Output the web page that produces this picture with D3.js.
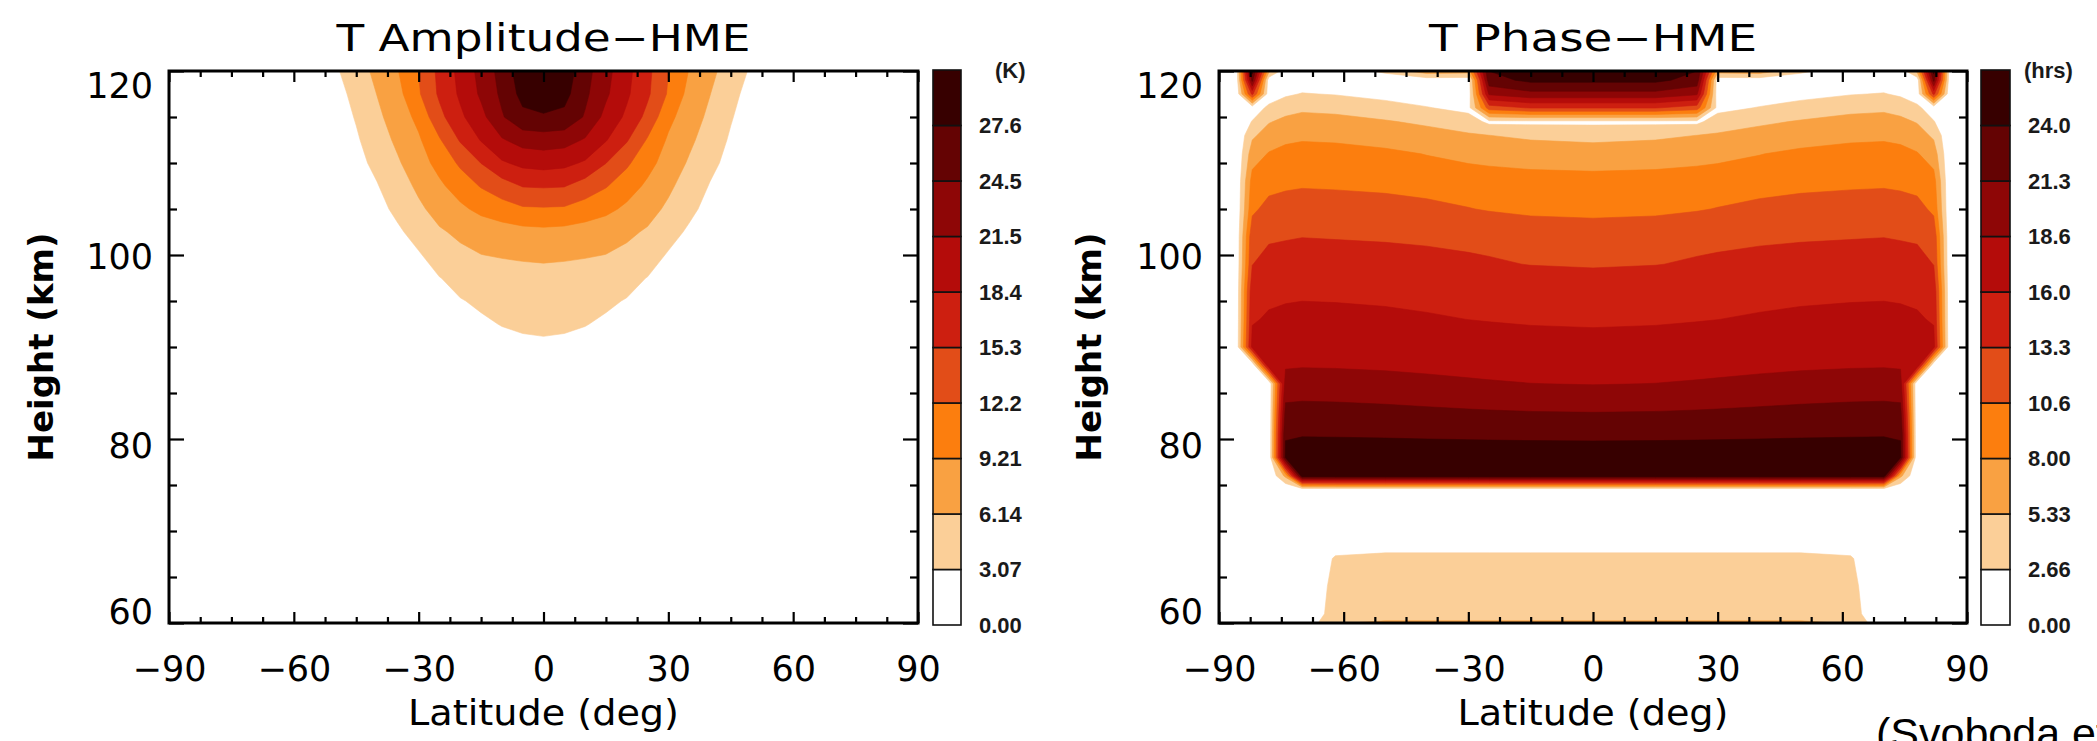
<!DOCTYPE html>
<html><head><meta charset="utf-8">
<script src="https://cdn.jsdelivr.net/npm/d3@7/dist/d3.min.js"></script>
<style>html,body{margin:0;padding:0;background:#fff;}svg{display:block;}</style>
</head><body>
<svg id="chart" width="2097" height="741" xmlns="http://www.w3.org/2000/svg"></svg>
<script>
// ================= DATA =================
const xTicks = [-90, -60, -30, 0, 30, 60, 90];
const xTickLabels = ["\u221290", "\u221260", "\u221230", "0", "30", "60", "90"];
const xMinorTicks = [-82.5, -75, -67.5, -52.5, -45, -37.5, -22.5, -15, -7.5, 7.5, 15, 22.5, 37.5, 45, 52.5, 67.5, 75, 82.5];
const yTicks = [60, 80, 100, 120];
const yTickLabels = ["60", "80", "100", "120"];
const yMinorTicks = [65, 70, 75, 85, 90, 95, 105, 110, 115];

const ampLevels = [0, 3.07, 6.14, 9.21, 12.2, 15.3, 18.4, 21.5, 24.5, 27.6];
const ampBarLabels = ["0.00", "3.07", "6.14", "9.21", "12.2", "15.3", "18.4", "21.5", "24.5", "27.6"];
const ampUnit = "(K)";
const phaseLevels = [0, 2.66, 5.33, 8.00, 10.6, 13.3, 16.0, 18.6, 21.3, 24.0];
const phaseBarLabels = ["0.00", "2.66", "5.33", "8.00", "10.6", "13.3", "16.0", "18.6", "21.3", "24.0"];
const phaseUnit = "(hrs)";

// Amplitude field (K): columns = ampLats, rows = ampHeights (bottom to top)
const ampLats = [-90,-85,-80,-75,-70,-65,-60,-55,-50,-45,-40,-35,-30,-25,-20,-15,-10,-5,0,5,10,15,20,25,30,35,40,45,50,55,60,65,70,75,80,85,90];
const ampHeights = [60,62.5,65,67.5,70,72.5,75,77.5,80,82.5,85,87.5,90,92.5,95,97.5,100,102.5,105,107.5,110,112.5,115,117.5,120];
const ampRows = [
[0.2,0.2,0.2,0.2,0.2,0.2,0.2,0.2,0.2,0.2,0.2,0.2,0.2,0.2,0.2,0.2,0.2,0.2,0.2,0.2,0.2,0.2,0.2,0.2,0.2,0.2,0.2,0.2,0.2,0.2,0.2,0.2,0.2,0.2,0.2,0.2,0.2],
[0.2,0.2,0.2,0.2,0.2,0.2,0.2,0.2,0.2,0.2,0.2,0.2,0.2,0.2,0.2,0.2,0.2,0.2,0.2,0.2,0.2,0.2,0.2,0.2,0.2,0.2,0.2,0.2,0.2,0.2,0.2,0.2,0.2,0.2,0.2,0.2,0.2],
[0.2,0.2,0.2,0.2,0.2,0.2,0.2,0.2,0.2,0.2,0.2,0.2,0.2,0.2,0.2,0.2,0.2,0.2,0.2,0.2,0.2,0.2,0.2,0.2,0.2,0.2,0.2,0.2,0.2,0.2,0.2,0.2,0.2,0.2,0.2,0.2,0.2],
[0.2,0.2,0.2,0.2,0.2,0.2,0.2,0.2,0.2,0.2,0.2,0.2,0.2,0.2,0.2,0.2,0.2,0.2,0.2,0.2,0.2,0.2,0.2,0.2,0.2,0.2,0.2,0.2,0.2,0.2,0.2,0.2,0.2,0.2,0.2,0.2,0.2],
[0.2,0.2,0.2,0.2,0.2,0.2,0.2,0.2,0.2,0.2,0.2,0.2,0.2,0.25,0.25,0.3,0.3,0.3,0.3,0.3,0.3,0.3,0.25,0.25,0.2,0.2,0.2,0.2,0.2,0.2,0.2,0.2,0.2,0.2,0.2,0.2,0.2],
[0.2,0.2,0.2,0.2,0.2,0.2,0.2,0.2,0.2,0.2,0.2,0.2,0.25,0.3,0.3,0.35,0.4,0.4,0.4,0.4,0.4,0.35,0.3,0.3,0.25,0.2,0.2,0.2,0.2,0.2,0.2,0.2,0.2,0.2,0.2,0.2,0.2],
[0.2,0.2,0.2,0.2,0.2,0.2,0.2,0.2,0.2,0.2,0.2,0.2,0.3,0.35,0.4,0.45,0.5,0.5,0.5,0.5,0.5,0.45,0.4,0.35,0.3,0.2,0.2,0.2,0.2,0.2,0.2,0.2,0.2,0.2,0.2,0.2,0.2],
[0.2,0.2,0.2,0.2,0.2,0.2,0.2,0.2,0.2,0.2,0.2,0.25,0.3,0.4,0.5,0.6,0.65,0.7,0.7,0.7,0.65,0.6,0.5,0.4,0.3,0.25,0.2,0.2,0.2,0.2,0.2,0.2,0.2,0.2,0.2,0.2,0.2],
[0.2,0.2,0.2,0.2,0.2,0.2,0.2,0.2,0.2,0.2,0.25,0.3,0.4,0.55,0.65,0.75,0.85,0.9,0.9,0.9,0.85,0.75,0.65,0.55,0.4,0.3,0.25,0.2,0.2,0.2,0.2,0.2,0.2,0.2,0.2,0.2,0.2],
[0.2,0.2,0.2,0.2,0.2,0.2,0.2,0.2,0.2,0.2,0.3,0.4,0.5,0.7,0.85,1.0,1.1,1.2,1.2,1.2,1.1,1.0,0.85,0.7,0.5,0.4,0.3,0.2,0.2,0.2,0.2,0.2,0.2,0.2,0.2,0.2,0.2],
[0.2,0.2,0.2,0.2,0.2,0.2,0.2,0.2,0.2,0.25,0.35,0.45,0.65,0.85,1.1,1.3,1.45,1.55,1.6,1.55,1.45,1.3,1.1,0.85,0.65,0.45,0.35,0.25,0.2,0.2,0.2,0.2,0.2,0.2,0.2,0.2,0.2],
[0.2,0.2,0.2,0.2,0.2,0.2,0.2,0.2,0.2,0.3,0.4,0.55,0.8,1.1,1.4,1.65,1.9,2.0,2.1,2.0,1.9,1.65,1.4,1.1,0.8,0.55,0.4,0.3,0.2,0.2,0.2,0.2,0.2,0.2,0.2,0.2,0.2],
[0.2,0.2,0.2,0.2,0.2,0.2,0.2,0.2,0.25,0.35,0.5,0.7,1.0,1.4,1.75,2.1,2.4,2.6,2.7,2.6,2.4,2.1,1.75,1.4,1.0,0.7,0.5,0.35,0.25,0.2,0.2,0.2,0.2,0.2,0.2,0.2,0.2],
[0.2,0.2,0.2,0.2,0.2,0.2,0.2,0.2,0.3,0.45,0.6,0.9,1.3,1.8,2.3,2.75,3.15,3.4,3.5,3.4,3.15,2.75,2.3,1.8,1.3,0.9,0.6,0.45,0.3,0.2,0.2,0.2,0.2,0.2,0.2,0.2,0.2],
[0.2,0.2,0.2,0.2,0.2,0.2,0.2,0.25,0.35,0.55,0.8,1.2,1.7,2.3,2.95,3.4,3.85,4.15,4.3,4.15,3.85,3.4,2.95,2.3,1.7,1.2,0.8,0.55,0.35,0.25,0.2,0.2,0.2,0.2,0.2,0.2,0.2],
[0.2,0.2,0.2,0.2,0.2,0.2,0.2,0.3,0.4,0.7,1.0,1.5,2.2,3.0,3.8,4.4,4.9,5.2,5.3,5.2,4.9,4.4,3.8,3.0,2.2,1.5,1.0,0.7,0.4,0.3,0.2,0.2,0.2,0.2,0.2,0.2,0.2],
[0.2,0.2,0.2,0.2,0.2,0.2,0.2,0.3,0.5,0.9,1.3,2.0,2.8,4.4,5.5,6.1,6.35,6.5,6.6,6.5,6.35,6.1,5.5,4.4,2.8,2.0,1.3,0.9,0.5,0.3,0.2,0.2,0.2,0.2,0.2,0.2,0.2],
[0.2,0.2,0.2,0.2,0.2,0.2,0.25,0.35,0.6,1.1,1.7,2.6,4.2,5.8,6.7,7.3,7.9,8.3,8.5,8.3,7.9,7.3,6.7,5.8,4.2,2.6,1.7,1.1,0.6,0.35,0.25,0.2,0.2,0.2,0.2,0.2,0.2],
[0.2,0.2,0.2,0.2,0.2,0.2,0.25,0.35,0.7,1.3,2.1,3.8,5.6,7.2,8.6,10.0,10.9,11.8,11.9,11.8,10.9,10.0,8.6,7.2,5.6,3.8,2.1,1.3,0.7,0.35,0.25,0.2,0.2,0.2,0.2,0.2,0.2],
[0.2,0.2,0.2,0.2,0.2,0.2,0.3,0.4,0.9,1.8,2.9,4.8,6.7,8.65,10.6,12.4,13.9,15.45,15.6,15.45,13.9,12.4,10.6,8.65,6.7,4.8,2.9,1.8,0.9,0.4,0.3,0.2,0.2,0.2,0.2,0.2,0.2],
[0.2,0.2,0.2,0.2,0.2,0.2,0.3,0.45,1.0,2.2,3.8,5.8,7.9,10.2,12.7,15.35,18.0,19.2,19.6,19.2,18.0,15.35,12.7,10.2,7.9,5.8,3.8,2.2,1.0,0.45,0.3,0.2,0.2,0.2,0.2,0.2,0.2],
[0.2,0.2,0.2,0.2,0.2,0.2,0.3,0.5,1.2,2.7,4.7,6.75,8.8,11.9,15.6,18.6,21.2,22.7,23.0,22.7,21.2,18.6,15.6,11.9,8.8,6.75,4.7,2.7,1.2,0.5,0.3,0.2,0.2,0.2,0.2,0.2,0.2],
[0.2,0.2,0.2,0.2,0.2,0.2,0.35,0.7,1.5,3.3,5.5,7.6,10.0,14.4,17.8,20.6,24.2,26.8,27.2,26.8,24.2,20.6,17.8,14.4,10.0,7.6,5.5,3.3,1.5,0.7,0.35,0.2,0.2,0.2,0.2,0.2,0.2],
[0.2,0.2,0.2,0.2,0.2,0.3,0.4,0.9,1.9,4.0,6.2,8.3,11.85,15.8,18.9,22.0,25.1,28.6,29.7,28.6,25.1,22.0,18.9,15.8,11.85,8.3,6.2,4.0,1.9,0.9,0.4,0.3,0.2,0.2,0.2,0.2,0.2],
[0.2,0.2,0.2,0.2,0.2,0.3,0.6,1.2,2.65,4.75,6.9,9.1,12.25,16.1,19.3,22.5,25.6,29.5,31.0,29.5,25.6,22.5,19.3,16.1,12.25,9.1,6.9,4.75,2.65,1.2,0.6,0.3,0.2,0.2,0.2,0.2,0.2]
];

// Phase field (hrs): columns = phaseLats, rows = phaseHeights (bottom to top)
const phaseLats = [-90,-86,-82,-78,-74,-70,-62,-50,-40,-30,-25,-15,0,15,25,30,40,50,62,70,74,78,82,86,90];
const phaseHeights = [60,61,64,67,70,74.5,76,78,80.5,83,86,88,90,93,96,99,102,105,108,111,113,114.5,116,117.5,119,120];
const phaseRows = [
[0,0,0,0,0,0.3,5.2,5.6,5.6,5.6,5.6,5.6,5.6,5.6,5.6,5.6,5.6,5.6,5.2,0.3,0,0,0,0,0],
[0,0,0,0,0,0.3,3.8,4.5,4.5,4.5,4.5,4.5,4.5,4.5,4.5,4.5,4.5,4.5,3.8,0.3,0,0,0,0,0],
[0,0,0,0,0,0.3,3.4,3.8,3.8,3.8,3.8,3.8,3.8,3.8,3.8,3.8,3.8,3.8,3.4,0.3,0,0,0,0,0],
[0,0,0,0,0,0.3,2.9,3.2,3.2,3.2,3.2,3.2,3.2,3.2,3.2,3.2,3.2,3.2,2.9,0.3,0,0,0,0,0],
[0,0,0,0,0,0.3,0.6,0.6,0.6,0.6,0.6,0.6,0.6,0.6,0.6,0.6,0.6,0.6,0.6,0.3,0,0,0,0,0],
[0,0,0,0,0,0.6,0.8,0.8,0.8,0.8,0.8,0.8,0.8,0.8,0.8,0.8,0.8,0.8,0.8,0.6,0,0,0,0,0],
[0,0,0,0,6,25.5,25.5,25.5,25.5,25.5,25.5,25.5,25.5,25.5,25.5,25.5,25.5,25.5,25.5,25.5,6,0,0,0,0],
[0,0,0,0,24.4,25,25,25,25,25,25,25,25,25,25,25,25,25,25,25,24.4,0,0,0,0],
[0,0,0,0,23.85,23.88,23.86,23.81,23.75,23.7,23.67,23.63,23.6,23.63,23.67,23.7,23.75,23.81,23.86,23.88,23.85,0,0,0,0],
[0,0,0,0,22.04,22.15,22.09,21.92,21.72,21.52,21.43,21.29,21.2,21.29,21.43,21.52,21.72,21.92,22.09,22.15,22.04,0,0,0,0],
[0,0,0,0,19.67,19.84,19.76,19.52,19.23,18.95,18.82,18.63,18.5,18.63,18.82,18.95,19.23,19.52,19.76,19.84,19.67,0,0,0,0],
[0,0,0,18.12,18.32,18.42,18.37,18.22,18.05,17.87,17.8,17.68,17.6,17.68,17.8,17.87,18.05,18.22,18.37,18.42,18.32,18.12,0,0,0],
[0,0,16.79,17.32,17.55,17.67,17.6,17.43,17.23,17.02,16.93,16.79,16.7,16.79,16.93,17.02,17.23,17.43,17.6,17.67,17.55,17.32,16.79,0,0],
[0,0,15.78,16.26,16.47,16.58,16.53,16.37,16.18,15.99,15.91,15.78,15.7,15.78,15.91,15.99,16.18,16.37,16.53,16.58,16.47,16.26,15.78,0,0],
[0,0,15.25,15.51,15.64,15.7,15.66,15.58,15.47,15.37,15.32,15.25,15.2,15.25,15.32,15.37,15.47,15.58,15.66,15.7,15.64,15.51,15.25,0,0],
[0,0,13.22,14.54,15.13,15.25,15.22,14.83,14.32,13.81,13.59,13.22,13.0,13.22,13.59,13.81,14.32,14.83,15.22,15.25,15.13,14.54,13.22,0,0],
[0,0,12.46,12.82,12.98,13.22,13.07,12.9,12.76,12.62,12.56,12.46,12.4,12.46,12.56,12.62,12.76,12.9,13.07,13.22,12.98,12.82,12.46,0,0],
[0,0,9.97,11.59,12.31,12.46,12.42,11.95,11.32,10.69,10.42,9.97,9.7,9.97,10.42,10.69,11.32,11.95,12.42,12.46,12.31,11.59,9.97,0,0],
[0,0,8.99,9.47,9.68,9.97,9.79,9.57,9.38,9.2,9.12,8.99,8.91,8.99,9.12,9.2,9.38,9.57,9.79,9.97,9.68,9.47,8.99,0,0],
[0,0,6.68,8.17,8.83,8.99,8.94,8.5,7.92,7.34,7.09,6.68,6.43,6.68,7.09,7.34,7.92,8.5,8.94,8.99,8.83,8.17,6.68,0,0],
[0,0,4.87,6.51,7.17,7.51,7.34,6.84,6.25,5.61,5.35,4.87,4.6,4.87,5.35,5.61,6.25,6.84,7.34,7.51,7.17,6.51,4.87,0,0],
[0,0,2.81,5.15,5.88,6.25,6.06,5.52,4.87,4.0,2.0,2.0,2.0,2.0,2.0,4.0,4.87,5.52,6.06,6.25,5.88,5.15,2.81,0,0],
[0,0,1.0,3.26,4.45,4.87,4.69,3.86,2.81,1.77,12,13.5,13.5,13.5,12,1.77,2.81,3.86,4.69,4.87,4.45,3.26,1.0,0,0],
[0,0,14,1.0,2.2,2.81,2.51,1.62,1.0,1.0,19,20.5,20.5,20.5,19,1.0,1.0,1.62,2.51,2.81,2.2,1.0,14,0,0],
[0,0,22,1.0,1.0,1.0,1.0,1.0,1.0,1.0,23,24.6,24.6,24.6,23,1.0,1.0,1.0,1.0,1.0,1.0,1.0,22,0,0],
[0,0,25,6.0,1.0,1.0,1.0,3.2,7.0,6.5,24,25.5,25.5,25.5,24,6.5,7.0,3.2,1.0,1.0,1.0,6.0,25,0,0]
];

// ================= STYLE / LAYOUT =================
const bandColors = ["#ffffff","#fbcf98","#f9a142","#fc7e0e","#e24d18","#cd1f10","#b40c0a","#8e0606","#640303","#370000"];
const FONT = "'DejaVu Sans', sans-serif";
const BARFONT = "'Liberation Sans', Arial, sans-serif";

const panels = [
  { title: "T Amplitude\u2212HME", lats: ampLats, heights: ampHeights, rows: ampRows, levels: ampLevels,
    barLabels: ampBarLabels, unit: ampUnit,
    box: {x0: 169, x1: 918, y0: 71, y1: 623}, bar: {x0: 933, x1: 961, y0: 70, y1: 625},
    ylabX: 53, titleLen: 414, unitX: 995 },
  { title: "T Phase\u2212HME", lats: phaseLats, heights: phaseHeights, rows: phaseRows, levels: phaseLevels,
    barLabels: phaseBarLabels, unit: phaseUnit,
    box: {x0: 1219, x1: 1967, y0: 71, y1: 623}, bar: {x0: 1981, x1: 2010, y0: 70, y1: 625},
    ylabX: 1101, titleLen: 328, unitX: 2024 }
];
const yLabelShift = [-12, 6, 1, 14]; // px nudges of the 60/80/100/120 labels

const svg = d3.select("#chart");
svg.append("rect").attr("width", 2097).attr("height", 741).attr("fill", "#ffffff");

panels.forEach((p, pi) => {
  const g = svg.append("g");
  const x = d3.scaleLinear().domain([-90, 90]).range([p.box.x0, p.box.x1]);
  const y = d3.scaleLinear().domain([60, 120]).range([p.box.y1, p.box.y0]);

  // grid index -> data coordinates (piecewise linear through the grid nodes)
  const nx = p.lats.length, ny = p.heights.length;
  const gx = d3.scaleLinear().domain(p.lats.map((d, i) => i + 0.5)).range(p.lats);
  const gy = d3.scaleLinear().domain(p.heights.map((d, i) => i + 0.5)).range(p.heights);
  const values = [].concat(...p.rows);
  const contours = d3.contours().size([nx, ny]).thresholds(p.levels.slice(1))(values);
  const proj = d3.geoTransform({ point: function(px, py) { this.stream.point(x(gx(px)), y(gy(py))); } });
  const path = d3.geoPath(proj);

  const clipId = "clip" + pi;
  g.append("clipPath").attr("id", clipId).append("rect")
    .attr("x", p.box.x0).attr("y", p.box.y0)
    .attr("width", p.box.x1 - p.box.x0).attr("height", p.box.y1 - p.box.y0);
  g.append("g").attr("clip-path", `url(#${clipId})`)
    .selectAll("path").data(contours).join("path")
    .attr("d", path)
    .attr("fill", (d, i) => bandColors[i + 1])
    .attr("stroke", (d, i) => bandColors[i + 1]).attr("stroke-width", 0.6);

  // axes (ticks point inward)
  const styleAxis = sel => {
    sel.select(".domain").remove();
    sel.selectAll(".tick line").attr("stroke", "#000").attr("stroke-width", 2.2);
    sel.selectAll(".tick text").attr("fill", "#000").style("font-family", FONT).style("font-size", "35px");
  };
  g.append("g").attr("transform", `translate(0,${p.box.y1})`)
    .call(d3.axisBottom(x).tickValues(xTicks).tickSize(-11).tickPadding(33).tickFormat((d, i) => xTickLabels[i]))
    .call(styleAxis);
  g.append("g").attr("transform", `translate(0,${p.box.y1})`)
    .call(d3.axisBottom(x).tickValues(xMinorTicks).tickSize(-6).tickFormat(""))
    .call(styleAxis);
  g.append("g").attr("transform", `translate(0,${p.box.y0})`)
    .call(d3.axisTop(x).tickValues(xTicks).tickSize(-11).tickFormat(""))
    .call(styleAxis);
  g.append("g").attr("transform", `translate(0,${p.box.y0})`)
    .call(d3.axisTop(x).tickValues(xMinorTicks).tickSize(-6).tickFormat(""))
    .call(styleAxis);
  const yl = g.append("g").attr("transform", `translate(${p.box.x0},0)`)
    .call(d3.axisLeft(y).tickValues(yTicks).tickSize(-15).tickPadding(16).tickFormat((d, i) => yTickLabels[i]))
    .call(styleAxis);
  yl.selectAll(".tick text").attr("dy", (d, i) => (yLabelShift[i] + 12) + "px");
  g.append("g").attr("transform", `translate(${p.box.x0},0)`)
    .call(d3.axisLeft(y).tickValues(yMinorTicks).tickSize(-8).tickFormat(""))
    .call(styleAxis);
  g.append("g").attr("transform", `translate(${p.box.x1},0)`)
    .call(d3.axisRight(y).tickValues(yTicks).tickSize(-15).tickFormat(""))
    .call(styleAxis);
  g.append("g").attr("transform", `translate(${p.box.x1},0)`)
    .call(d3.axisRight(y).tickValues(yMinorTicks).tickSize(-8).tickFormat(""))
    .call(styleAxis);

  // frame
  g.append("rect").attr("x", p.box.x0).attr("y", p.box.y0)
    .attr("width", p.box.x1 - p.box.x0).attr("height", p.box.y1 - p.box.y0)
    .attr("fill", "none").attr("stroke", "#000").attr("stroke-width", 3);

  // titles & axis titles
  g.append("text").attr("x", (p.box.x0 + p.box.x1) / 2).attr("y", 51)
    .attr("text-anchor", "middle").attr("textLength", p.titleLen).attr("lengthAdjust", "spacingAndGlyphs")
    .style("font-family", FONT).style("font-size", "37px").attr("fill", "#000").text(p.title);
  g.append("text").attr("x", (p.box.x0 + p.box.x1) / 2).attr("y", 725)
    .attr("text-anchor", "middle").attr("textLength", 271).attr("lengthAdjust", "spacingAndGlyphs")
    .style("font-family", FONT).style("font-size", "35px").attr("fill", "#000").text("Latitude (deg)");
  g.append("text").attr("transform", `translate(${p.ylabX},${(p.box.y0 + p.box.y1) / 2}) rotate(-90)`)
    .attr("text-anchor", "middle").style("font-family", FONT).style("font-size", "34px")
    .style("font-weight", "bold").attr("fill", "#000").text("Height (km)");

  // colour bar
  const cb = d3.scaleLinear().domain([0, 10]).range([p.bar.y1, p.bar.y0]);
  const bg = g.append("g");
  bg.selectAll("rect").data(bandColors).join("rect")
    .attr("x", p.bar.x0).attr("width", p.bar.x1 - p.bar.x0)
    .attr("y", (d, i) => cb(i + 1)).attr("height", (d, i) => cb(i) - cb(i + 1))
    .attr("fill", d => d).attr("stroke", "#111").attr("stroke-width", 1.6);
  bg.selectAll("text.lab").data(p.barLabels).join("text").attr("class", "lab")
    .attr("x", p.bar.x1 + 18).attr("y", (d, i) => cb(i)).attr("dy", "0.36em")
    .style("font-family", BARFONT).style("font-size", "22px").style("font-weight", "bold")
    .attr("fill", "#1a1a1a").text(d => d);
  bg.append("text").attr("x", p.unitX).attr("y", cb(10)).attr("dy", "0.36em")
    .style("font-family", BARFONT).style("font-size", "22px").style("font-weight", "bold")
    .attr("fill", "#1a1a1a").text(p.unit);
});

svg.append("text").attr("x", 1876).attr("y", 748)
  .style("font-family", "'Liberation Sans', Arial, sans-serif").style("font-size", "43px")
  .attr("fill", "#000").text("(Svoboda et al.)");
</script>
</body></html>
